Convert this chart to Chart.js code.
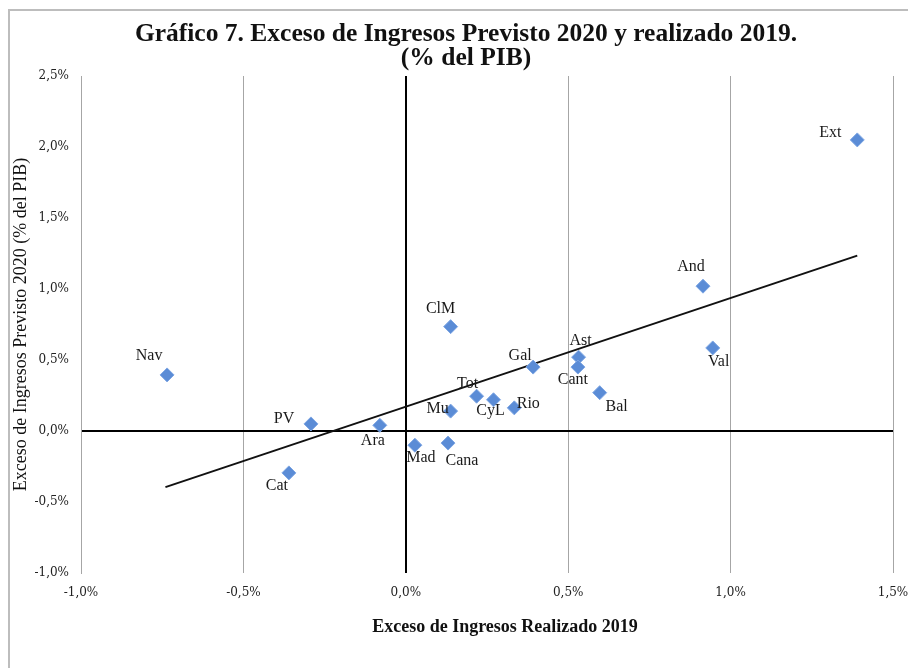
<!DOCTYPE html>
<html>
<head>
<meta charset="utf-8">
<script src="https://cdn.jsdelivr.net/npm/chart.js@4.4.1/dist/chart.umd.min.js"></script>
<style>
  html, body { margin: 0; padding: 0; background: #fff; }
  #wrap { width: 908px; height: 668px; }
</style>
</head>
<body>
<div id="wrap"><canvas id="myChart" width="908" height="668"></canvas></div>
<script>
// regiones
var regions = ["Ext", "And", "Val", "Ast", "Cant", "Bal", "Gal", "ClM", "Tot", "CyL", "Rio", "Mu", "Mad", "Cana", "Ara", "PV", "Cat", "Nav"];
// exceso realizado 2019 (% PIB)
var realizado2019 = [1.39, 0.915, 0.945, 0.532, 0.53, 0.597, 0.392, 0.138, 0.218, 0.27, 0.334, 0.138, 0.028, 0.13, -0.08, -0.292, -0.36, -0.735];
// exceso previsto 2020 (% PIB)
var previsto2020 = [2.05, 1.02, 0.585, 0.52, 0.45, 0.27, 0.45, 0.735, 0.245, 0.22, 0.163, 0.14, -0.1, -0.085, 0.04, 0.05, -0.295, 0.395];
// linea de tendencia (extremos)
var trendX = [-0.74, 1.39];
var trendY = [-0.395, 1.235];

var xTicks = [-1.0, -0.5, 0.0, 0.5, 1.0, 1.5];
var yTicks = [-1.0, -0.5, 0.0, 0.5, 1.0, 1.5, 2.0, 2.5];

var titleLines = ['Gráfico 7. Exceso de Ingresos Previsto 2020 y realizado 2019.', '(% del PIB)'];

function pct(v) {
  return v.toFixed(1).replace('.', ',') + '%';
}

// where each label sits relative to its point
var labelPos = {
  Ext: [-27, -7], And: [-12, -19], Val: [6, 14], Ast: [2, -16], Cant: [-5, 13],
  Bal: [17, 14], Gal: [-13, -11], ClM: [-10, -18], Tot: [-9, -12], CyL: [-3, 11],
  Rio: [14, -4], Mu: [-13, -2], Mad: [6, 13], Cana: [14, 18], Ara: [-7, 15],
  PV: [-27, -5], Cat: [-12, 13], Nav: [-18, -19]
};

var pointLabels = {
  id: 'pointLabels',
  afterDatasetsDraw: function(chart) {
    var ctx = chart.ctx;
    var meta = chart.getDatasetMeta(0);
    ctx.save();
    ctx.font = '16px "Liberation Serif", serif';
    ctx.fillStyle = '#1a1a1a';
    ctx.textAlign = 'center';
    ctx.textBaseline = 'middle';
    meta.data.forEach(function(pt, i) {
      var off = labelPos[regions[i]] || [0, -14];
      ctx.fillText(regions[i], pt.x + off[0], pt.y + off[1]);
    });
    ctx.restore();
  }
};

// frame, title and x axis title (both sit a bit right of the plot centre)
var frame = {
  id: 'frame',
  beforeDraw: function(chart) {
    var ctx = chart.ctx;
    ctx.save();
    ctx.strokeStyle = '#bdbdbd';
    ctx.lineWidth = 2;
    ctx.beginPath();
    ctx.moveTo(9, 668);
    ctx.lineTo(9, 10);
    ctx.lineTo(908, 10);
    ctx.stroke();
    ctx.restore();
  },
  afterDraw: function(chart) {
    var ctx = chart.ctx;
    ctx.save();
    ctx.fillStyle = '#111';
    ctx.textAlign = 'center';
    ctx.textBaseline = 'middle';
    ctx.font = 'bold 25.5px "Liberation Serif", serif';
    ctx.fillText(titleLines[0], 466, 34);
    ctx.fillText(titleLines[1], 466, 58);
    ctx.font = 'bold 18px "Liberation Serif", serif';
    ctx.fillText('Exceso de Ingresos Realizado 2019', 505, 627);
    ctx.restore();
  }
};

var ctx = document.getElementById("myChart");
var myChart = new Chart(ctx, {
  type: 'scatter',
  data: {
    datasets: [{
      label: 'CCAA',
      data: regions.map(function(r, i) { return { x: realizado2019[i], y: previsto2020[i] }; }),
      pointStyle: 'rectRot',
      pointRadius: 7,
      pointHoverRadius: 7,
      backgroundColor: '#5b8cd6',
      borderColor: '#7ea6e3',
      borderWidth: 1
    }, {
      label: 'Tendencia',
      type: 'line',
      data: trendX.map(function(x, i) { return { x: x, y: trendY[i] }; }),
      borderColor: '#111',
      borderWidth: 2,
      pointRadius: 0,
      fill: false
    }]
  },
  options: {
    responsive: false,
    animation: false,
    layout: { padding: { left: 10, right: 15, top: 76, bottom: 0 } },
    plugins: {
      legend: { display: false },
      tooltip: { enabled: false },
      title: { display: false }
    },
    scales: {
      x: {
        type: 'linear',
        min: -1.0,
        max: 1.5,
        afterBuildTicks: function(s) { s.ticks = xTicks.map(function(v) { return { value: v }; }); },
        afterFit: function(s) { s.height = 95; s.paddingRight = 0; s.paddingLeft = 0; },
        border: { display: false },
        grid: {
          drawTicks: false,
          color: function(c) { return c.tick && c.tick.value === 0 ? '#000' : '#a6a6a6'; },
          lineWidth: function(c) { return c.tick && c.tick.value === 0 ? 2 : 1; }
        },
        ticks: {
          padding: 13,
          color: '#222',
          font: { family: '"DejaVu Serif", serif', size: 12 },
          callback: function(v) { return pct(v); }
        }
      },
      y: {
        type: 'linear',
        min: -1.0,
        max: 2.5,
        afterBuildTicks: function(s) { s.ticks = yTicks.map(function(v) { return { value: v }; }); },
        afterFit: function(s) { s.width = 71; s.paddingTop = 0; s.paddingBottom = 0; },
        border: { display: true, color: '#a6a6a6', width: 1 },
        grid: {
          drawTicks: false,
          color: function(c) { return c.tick && c.tick.value === 0 ? '#000' : 'rgba(0,0,0,0)'; },
          lineWidth: function(c) { return c.tick && c.tick.value === 0 ? 2 : 1; }
        },
        ticks: {
          padding: 12,
          color: '#222',
          font: { family: '"DejaVu Serif", serif', size: 12 },
          callback: function(v) { return pct(v); }
        },
        title: {
          display: true,
          text: 'Exceso de Ingresos Previsto 2020 (% del PIB)',
          color: '#111',
          font: { family: '"Liberation Serif", serif', size: 18 },
          padding: { top: 0, bottom: 0 }
        }
      }
    }
  },
  plugins: [frame, pointLabels]
});
</script>
</body>
</html>
